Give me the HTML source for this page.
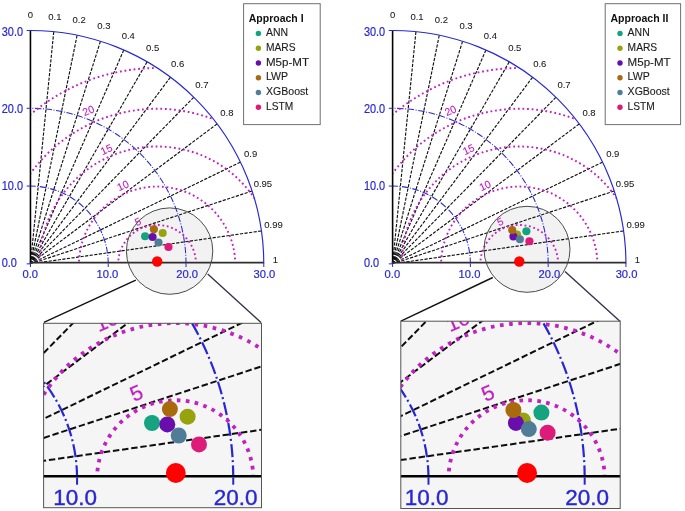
<!DOCTYPE html>
<html><head><meta charset="utf-8"><title>Taylor diagrams</title>
<style>html,body{margin:0;padding:0;background:#fff}svg{display:block;font-family:"Liberation Sans",sans-serif}</style></head><body>
<svg width="685" height="511" viewBox="0 0 685 511">
<defs>
<filter id="bl" x="-5%" y="-5%" width="110%" height="110%"><feGaussianBlur stdDeviation="0.4"/></filter>
<g id="coreL"><clipPath id="qL"><path d="M30.45 263.00 L30.45 30.51 A233.34 233.34 0 0 1 263.79 263.00 Z"/></clipPath>
<clipPath id="bL"><rect x="29.45" y="0" width="236.34" height="263.20"/></clipPath>
<g clip-path="url(#bL)">
<line x1="30.45" y1="263.85" x2="53.78" y2="31.68" stroke="#111" style="stroke-width:var(--dw)" stroke-dasharray="3.2 1.4"/>
<line x1="30.45" y1="263.85" x2="77.12" y2="35.22" stroke="#111" style="stroke-width:var(--dw)" stroke-dasharray="3.2 1.4"/>
<line x1="30.45" y1="263.85" x2="100.45" y2="41.26" stroke="#111" style="stroke-width:var(--dw)" stroke-dasharray="3.2 1.4"/>
<line x1="30.45" y1="263.85" x2="123.79" y2="49.99" stroke="#111" style="stroke-width:var(--dw)" stroke-dasharray="3.2 1.4"/>
<line x1="30.45" y1="263.85" x2="147.12" y2="61.77" stroke="#111" style="stroke-width:var(--dw)" stroke-dasharray="3.2 1.4"/>
<line x1="30.45" y1="263.85" x2="170.45" y2="77.18" stroke="#111" style="stroke-width:var(--dw)" stroke-dasharray="3.2 1.4"/>
<line x1="30.45" y1="263.85" x2="193.79" y2="97.21" stroke="#111" style="stroke-width:var(--dw)" stroke-dasharray="3.2 1.4"/>
<line x1="30.45" y1="263.85" x2="217.12" y2="123.85" stroke="#111" style="stroke-width:var(--dw)" stroke-dasharray="3.2 1.4"/>
<line x1="30.45" y1="263.85" x2="240.46" y2="162.14" stroke="#111" style="stroke-width:var(--dw)" stroke-dasharray="3.2 1.4"/>
<line x1="30.45" y1="263.85" x2="252.12" y2="190.99" stroke="#111" style="stroke-width:var(--dw)" stroke-dasharray="3.2 1.4"/>
<line x1="30.45" y1="263.85" x2="261.46" y2="230.93" stroke="#111" style="stroke-width:var(--dw)" stroke-dasharray="3.2 1.4"/>
<path d="M108.23 263.85 A77.78 77.78 0 0 0 30.45 186.07" fill="none" stroke="#2828d2" style="stroke-width:var(--bw)" stroke-dasharray="6.5 1.6 1 1.5"/>
<path d="M186.01 263.85 A155.56 155.56 0 0 0 30.45 108.29" fill="none" stroke="#2828d2" style="stroke-width:var(--bw)" stroke-dasharray="6.5 1.6 1 1.5"/>
</g>
<g clip-path="url(#qL)">
<path d="M196.00 263.85 A38.89 38.89 0 0 0 118.22 263.85" fill="none" stroke="#c020c0" style="stroke-width:var(--mw)" stroke-dasharray="1.8 2.687"/>
<path d="M235.28 263.85 A78.17 78.17 0 0 0 78.95 263.85" fill="none" stroke="#c020c0" style="stroke-width:var(--mw)" stroke-dasharray="1.8 2.8"/>
<path d="M274.48 263.85 A117.37 117.37 0 0 0 39.74 263.85" fill="none" stroke="#c020c0" style="stroke-width:var(--mw)" stroke-dasharray="1.8 2.8"/>
<path d="M313.45 263.85 A156.34 156.34 0 0 0 0.78 263.85" fill="none" stroke="#c020c0" style="stroke-width:var(--mw)" stroke-dasharray="1.8 2.8"/>
<path d="M153.70 68.07 A195.81 195.81 0 0 0 -38.70 263.85" fill="none" stroke="#c020c0" style="stroke-width:var(--mw)" stroke-dasharray="1.8 2.8"/>
</g>
<text x="137.80" y="221.30" transform="rotate(-24 137.80 221.30)" font-size="10.5" fill="#c020c0" stroke="#c020c0" stroke-width="0.12" text-anchor="middle" dominant-baseline="central">5</text>
<text x="122.80" y="185.30" transform="rotate(-24 122.80 185.30)" font-size="10.5" fill="#c020c0" stroke="#c020c0" stroke-width="0.12" text-anchor="middle" dominant-baseline="central">10</text>
<text x="106.30" y="149.20" transform="rotate(-24 106.30 149.20)" font-size="10.5" fill="#c020c0" stroke="#c020c0" stroke-width="0.12" text-anchor="middle" dominant-baseline="central">15</text>
<text x="88.30" y="110.30" transform="rotate(-24 88.30 110.30)" font-size="10.5" fill="#c020c0" stroke="#c020c0" stroke-width="0.12" text-anchor="middle" dominant-baseline="central">20</text>
<path d="M263.79 263.85 A233.34 233.34 0 0 0 30.45 30.51" fill="none" stroke="#2828d2" stroke-width="1.15"/>
<line x1="30.45" y1="263.55" x2="30.45" y2="30.51" stroke="#000" stroke-width="1.6"/>
<line x1="29.65" y1="262.70" x2="263.79" y2="262.70" style="stroke:var(--axc);stroke-width:var(--axw);transform:translate(0px,var(--by))"/>
<line x1="30.45" y1="263.35" x2="30.45" y2="267.05" stroke="#2828d2" stroke-width="1"/>
<text x="30.20" y="277.95" font-size="11.2" fill="#2828d2" stroke="#2828d2" stroke-width="0.2" text-anchor="middle" style="transform:translate(0px,var(--ly))">0.0</text>
<line x1="26.65" y1="263.85" x2="30.45" y2="263.85" stroke="#2828d2" stroke-width="1"/>
<text x="1.75" y="267.27" font-size="12.2" fill="#2828d2" stroke="#2828d2" stroke-width="0.2" text-anchor="start" textLength="15.2" lengthAdjust="spacingAndGlyphs">0.0</text>
<line x1="108.23" y1="263.35" x2="108.23" y2="267.05" stroke="#2828d2" stroke-width="1"/>
<text x="107.33" y="277.95" font-size="11.2" fill="#2828d2" stroke="#2828d2" stroke-width="0.2" text-anchor="middle" style="transform:translate(0px,var(--ly))">10.0</text>
<line x1="26.65" y1="186.07" x2="30.45" y2="186.07" stroke="#2828d2" stroke-width="1"/>
<text x="1.75" y="189.97" font-size="12.2" fill="#2828d2" stroke="#2828d2" stroke-width="0.2" text-anchor="start" textLength="21.3" lengthAdjust="spacingAndGlyphs">10.0</text>
<line x1="186.01" y1="263.35" x2="186.01" y2="267.05" stroke="#2828d2" stroke-width="1"/>
<text x="187.21" y="277.95" font-size="11.2" fill="#2828d2" stroke="#2828d2" stroke-width="0.2" text-anchor="middle" style="transform:translate(0px,var(--ly))">20.0</text>
<line x1="26.65" y1="108.29" x2="30.45" y2="108.29" stroke="#2828d2" stroke-width="1"/>
<text x="1.75" y="112.77" font-size="12.2" fill="#2828d2" stroke="#2828d2" stroke-width="0.2" text-anchor="start" textLength="21.3" lengthAdjust="spacingAndGlyphs">20.0</text>
<line x1="263.79" y1="263.35" x2="263.79" y2="267.05" stroke="#2828d2" stroke-width="1"/>
<text x="264.39" y="277.95" font-size="11.2" fill="#2828d2" stroke="#2828d2" stroke-width="0.2" text-anchor="middle" style="transform:translate(0px,var(--ly))">30.0</text>
<line x1="26.65" y1="30.51" x2="30.45" y2="30.51" stroke="#2828d2" stroke-width="1"/>
<text x="1.75" y="35.77" font-size="12.2" fill="#2828d2" stroke="#2828d2" stroke-width="0.2" text-anchor="start" textLength="21.3" lengthAdjust="spacingAndGlyphs">30.0</text></g>
<g id="coreR"><clipPath id="qR"><path d="M392.60 263.00 L392.60 30.51 A233.34 233.34 0 0 1 625.94 263.00 Z"/></clipPath>
<clipPath id="bR"><rect x="391.60" y="0" width="236.34" height="263.20"/></clipPath>
<g clip-path="url(#bR)">
<line x1="392.60" y1="263.85" x2="415.93" y2="31.68" stroke="#111" style="stroke-width:var(--dw)" stroke-dasharray="3.2 1.4"/>
<line x1="392.60" y1="263.85" x2="439.27" y2="35.22" stroke="#111" style="stroke-width:var(--dw)" stroke-dasharray="3.2 1.4"/>
<line x1="392.60" y1="263.85" x2="462.60" y2="41.26" stroke="#111" style="stroke-width:var(--dw)" stroke-dasharray="3.2 1.4"/>
<line x1="392.60" y1="263.85" x2="485.94" y2="49.99" stroke="#111" style="stroke-width:var(--dw)" stroke-dasharray="3.2 1.4"/>
<line x1="392.60" y1="263.85" x2="509.27" y2="61.77" stroke="#111" style="stroke-width:var(--dw)" stroke-dasharray="3.2 1.4"/>
<line x1="392.60" y1="263.85" x2="532.60" y2="77.18" stroke="#111" style="stroke-width:var(--dw)" stroke-dasharray="3.2 1.4"/>
<line x1="392.60" y1="263.85" x2="555.94" y2="97.21" stroke="#111" style="stroke-width:var(--dw)" stroke-dasharray="3.2 1.4"/>
<line x1="392.60" y1="263.85" x2="579.27" y2="123.85" stroke="#111" style="stroke-width:var(--dw)" stroke-dasharray="3.2 1.4"/>
<line x1="392.60" y1="263.85" x2="602.61" y2="162.14" stroke="#111" style="stroke-width:var(--dw)" stroke-dasharray="3.2 1.4"/>
<line x1="392.60" y1="263.85" x2="614.27" y2="190.99" stroke="#111" style="stroke-width:var(--dw)" stroke-dasharray="3.2 1.4"/>
<line x1="392.60" y1="263.85" x2="623.61" y2="230.93" stroke="#111" style="stroke-width:var(--dw)" stroke-dasharray="3.2 1.4"/>
<path d="M470.38 263.85 A77.78 77.78 0 0 0 392.60 186.07" fill="none" stroke="#2828d2" style="stroke-width:var(--bw)" stroke-dasharray="6.5 1.6 1 1.5"/>
<path d="M548.16 263.85 A155.56 155.56 0 0 0 392.60 108.29" fill="none" stroke="#2828d2" style="stroke-width:var(--bw)" stroke-dasharray="6.5 1.6 1 1.5"/>
</g>
<g clip-path="url(#qR)">
<path d="M558.15 263.85 A38.89 38.89 0 0 0 480.37 263.85" fill="none" stroke="#c020c0" style="stroke-width:var(--mw)" stroke-dasharray="1.8 2.687"/>
<path d="M597.43 263.85 A78.17 78.17 0 0 0 441.10 263.85" fill="none" stroke="#c020c0" style="stroke-width:var(--mw)" stroke-dasharray="1.8 2.8"/>
<path d="M636.63 263.85 A117.37 117.37 0 0 0 401.89 263.85" fill="none" stroke="#c020c0" style="stroke-width:var(--mw)" stroke-dasharray="1.8 2.8"/>
<path d="M675.60 263.85 A156.34 156.34 0 0 0 362.93 263.85" fill="none" stroke="#c020c0" style="stroke-width:var(--mw)" stroke-dasharray="1.8 2.8"/>
<path d="M515.85 68.07 A195.81 195.81 0 0 0 323.45 263.85" fill="none" stroke="#c020c0" style="stroke-width:var(--mw)" stroke-dasharray="1.8 2.8"/>
</g>
<text x="499.95" y="221.30" transform="rotate(-24 499.95 221.30)" font-size="10.5" fill="#c020c0" stroke="#c020c0" stroke-width="0.12" text-anchor="middle" dominant-baseline="central">5</text>
<text x="484.95" y="185.30" transform="rotate(-24 484.95 185.30)" font-size="10.5" fill="#c020c0" stroke="#c020c0" stroke-width="0.12" text-anchor="middle" dominant-baseline="central">10</text>
<text x="468.45" y="149.20" transform="rotate(-24 468.45 149.20)" font-size="10.5" fill="#c020c0" stroke="#c020c0" stroke-width="0.12" text-anchor="middle" dominant-baseline="central">15</text>
<text x="450.45" y="110.30" transform="rotate(-24 450.45 110.30)" font-size="10.5" fill="#c020c0" stroke="#c020c0" stroke-width="0.12" text-anchor="middle" dominant-baseline="central">20</text>
<path d="M625.94 263.85 A233.34 233.34 0 0 0 392.60 30.51" fill="none" stroke="#2828d2" stroke-width="1.15"/>
<line x1="392.60" y1="263.55" x2="392.60" y2="30.51" stroke="#000" stroke-width="1.6"/>
<line x1="391.80" y1="262.70" x2="625.94" y2="262.70" style="stroke:var(--axc);stroke-width:var(--axw);transform:translate(0px,var(--by))"/>
<line x1="392.60" y1="263.35" x2="392.60" y2="267.05" stroke="#2828d2" stroke-width="1"/>
<text x="392.35" y="277.95" font-size="11.2" fill="#2828d2" stroke="#2828d2" stroke-width="0.2" text-anchor="middle" style="transform:translate(0px,var(--ly))">0.0</text>
<line x1="388.80" y1="263.85" x2="392.60" y2="263.85" stroke="#2828d2" stroke-width="1"/>
<text x="363.90" y="267.27" font-size="12.2" fill="#2828d2" stroke="#2828d2" stroke-width="0.2" text-anchor="start" textLength="15.2" lengthAdjust="spacingAndGlyphs">0.0</text>
<line x1="470.38" y1="263.35" x2="470.38" y2="267.05" stroke="#2828d2" stroke-width="1"/>
<text x="469.48" y="277.95" font-size="11.2" fill="#2828d2" stroke="#2828d2" stroke-width="0.2" text-anchor="middle" style="transform:translate(0px,var(--ly))">10.0</text>
<line x1="388.80" y1="186.07" x2="392.60" y2="186.07" stroke="#2828d2" stroke-width="1"/>
<text x="363.90" y="189.97" font-size="12.2" fill="#2828d2" stroke="#2828d2" stroke-width="0.2" text-anchor="start" textLength="21.3" lengthAdjust="spacingAndGlyphs">10.0</text>
<line x1="548.16" y1="263.35" x2="548.16" y2="267.05" stroke="#2828d2" stroke-width="1"/>
<text x="549.36" y="277.95" font-size="11.2" fill="#2828d2" stroke="#2828d2" stroke-width="0.2" text-anchor="middle" style="transform:translate(0px,var(--ly))">20.0</text>
<line x1="388.80" y1="108.29" x2="392.60" y2="108.29" stroke="#2828d2" stroke-width="1"/>
<text x="363.90" y="112.77" font-size="12.2" fill="#2828d2" stroke="#2828d2" stroke-width="0.2" text-anchor="start" textLength="21.3" lengthAdjust="spacingAndGlyphs">20.0</text>
<line x1="625.94" y1="263.35" x2="625.94" y2="267.05" stroke="#2828d2" stroke-width="1"/>
<text x="626.54" y="277.95" font-size="11.2" fill="#2828d2" stroke="#2828d2" stroke-width="0.2" text-anchor="middle" style="transform:translate(0px,var(--ly))">30.0</text>
<line x1="388.80" y1="30.51" x2="392.60" y2="30.51" stroke="#2828d2" stroke-width="1"/>
<text x="363.90" y="35.77" font-size="12.2" fill="#2828d2" stroke="#2828d2" stroke-width="0.2" text-anchor="start" textLength="21.3" lengthAdjust="spacingAndGlyphs">30.0</text></g>
<clipPath id="insL"><rect x="43.6" y="323.3" width="217.9" height="184.4" /></clipPath>
<clipPath id="insR"><rect x="400.8" y="321.2" width="219.4" height="187.3" /></clipPath>
</defs>
<rect width="685" height="511" fill="#fff"/>
<g opacity="0.999">
<circle cx="169.6" cy="251.1" r="43.2" fill="#f2f2f2"/>
<circle cx="527.0" cy="249.3" r="43.0" fill="#f2f2f2"/>
<use href="#coreL" style="--dw:1.15;--bw:1.05;--mw:1.9;--axw:1.7;--axc:#2e2e2e;--by:0px;--ly:0px"/>
<use href="#coreR" style="--dw:1.15;--bw:1.05;--mw:1.9;--axw:1.7;--axc:#2e2e2e;--by:0px;--ly:0px"/>
<circle cx="145.10" cy="236.30" r="4.05" fill="#12a37f"/>
<circle cx="162.70" cy="233.00" r="4.05" fill="#96a30f"/>
<circle cx="152.60" cy="237.00" r="4.05" fill="#6a0dad"/>
<circle cx="153.90" cy="229.30" r="4.05" fill="#a86a0e"/>
<circle cx="158.50" cy="242.50" r="4.05" fill="#4f7d98"/>
<circle cx="168.50" cy="247.00" r="4.05" fill="#dd1a7a"/>
<circle cx="157.2" cy="261.45" r="5.2" fill="#ff0000"/>
<circle cx="526.40" cy="231.20" r="4.05" fill="#12a37f"/>
<circle cx="517.00" cy="234.60" r="4.05" fill="#96a30f"/>
<circle cx="513.40" cy="236.50" r="4.05" fill="#6a0dad"/>
<circle cx="512.20" cy="230.00" r="4.05" fill="#a86a0e"/>
<circle cx="519.90" cy="239.30" r="4.05" fill="#4f7d98"/>
<circle cx="529.40" cy="241.20" r="4.05" fill="#dd1a7a"/>
<circle cx="519.3" cy="261.45" r="5.2" fill="#ff0000"/>
<circle cx="169.6" cy="251.1" r="43.2" fill="none" stroke="#4a4a4a" stroke-width="1"/>
<circle cx="527.0" cy="249.3" r="43.0" fill="none" stroke="#4a4a4a" stroke-width="1"/>
<text x="30.50" y="18.00" font-size="9.5" fill="#1a1a1a" stroke="#1a1a1a" stroke-width="0.08" text-anchor="middle">0</text>
<text x="54.90" y="19.70" font-size="9.5" fill="#1a1a1a" stroke="#1a1a1a" stroke-width="0.08" text-anchor="middle">0.1</text>
<text x="79.20" y="23.20" font-size="9.5" fill="#1a1a1a" stroke="#1a1a1a" stroke-width="0.08" text-anchor="middle">0.2</text>
<text x="103.90" y="29.40" font-size="9.5" fill="#1a1a1a" stroke="#1a1a1a" stroke-width="0.08" text-anchor="middle">0.3</text>
<text x="128.30" y="38.80" font-size="9.5" fill="#1a1a1a" stroke="#1a1a1a" stroke-width="0.08" text-anchor="middle">0.4</text>
<text x="152.60" y="50.50" font-size="9.5" fill="#1a1a1a" stroke="#1a1a1a" stroke-width="0.08" text-anchor="middle">0.5</text>
<text x="177.60" y="67.20" font-size="9.5" fill="#1a1a1a" stroke="#1a1a1a" stroke-width="0.08" text-anchor="middle">0.6</text>
<text x="201.90" y="88.10" font-size="9.5" fill="#1a1a1a" stroke="#1a1a1a" stroke-width="0.08" text-anchor="middle">0.7</text>
<text x="226.90" y="115.60" font-size="9.5" fill="#1a1a1a" stroke="#1a1a1a" stroke-width="0.08" text-anchor="middle">0.8</text>
<text x="250.60" y="156.50" font-size="9.5" fill="#1a1a1a" stroke="#1a1a1a" stroke-width="0.08" text-anchor="middle">0.9</text>
<text x="262.90" y="186.70" font-size="9.5" fill="#1a1a1a" stroke="#1a1a1a" stroke-width="0.08" text-anchor="middle">0.95</text>
<text x="273.50" y="228.40" font-size="9.5" fill="#1a1a1a" stroke="#1a1a1a" stroke-width="0.08" text-anchor="middle">0.99</text>
<text x="275.30" y="263.00" font-size="9.5" fill="#1a1a1a" stroke="#1a1a1a" stroke-width="0.08" text-anchor="middle">1</text>
<text x="392.65" y="18.00" font-size="9.5" fill="#1a1a1a" stroke="#1a1a1a" stroke-width="0.08" text-anchor="middle">0</text>
<text x="417.05" y="19.70" font-size="9.5" fill="#1a1a1a" stroke="#1a1a1a" stroke-width="0.08" text-anchor="middle">0.1</text>
<text x="441.35" y="23.20" font-size="9.5" fill="#1a1a1a" stroke="#1a1a1a" stroke-width="0.08" text-anchor="middle">0.2</text>
<text x="466.05" y="29.40" font-size="9.5" fill="#1a1a1a" stroke="#1a1a1a" stroke-width="0.08" text-anchor="middle">0.3</text>
<text x="490.45" y="38.80" font-size="9.5" fill="#1a1a1a" stroke="#1a1a1a" stroke-width="0.08" text-anchor="middle">0.4</text>
<text x="514.75" y="50.50" font-size="9.5" fill="#1a1a1a" stroke="#1a1a1a" stroke-width="0.08" text-anchor="middle">0.5</text>
<text x="539.75" y="67.20" font-size="9.5" fill="#1a1a1a" stroke="#1a1a1a" stroke-width="0.08" text-anchor="middle">0.6</text>
<text x="564.05" y="88.10" font-size="9.5" fill="#1a1a1a" stroke="#1a1a1a" stroke-width="0.08" text-anchor="middle">0.7</text>
<text x="589.05" y="115.60" font-size="9.5" fill="#1a1a1a" stroke="#1a1a1a" stroke-width="0.08" text-anchor="middle">0.8</text>
<text x="612.75" y="156.50" font-size="9.5" fill="#1a1a1a" stroke="#1a1a1a" stroke-width="0.08" text-anchor="middle">0.9</text>
<text x="625.05" y="186.70" font-size="9.5" fill="#1a1a1a" stroke="#1a1a1a" stroke-width="0.08" text-anchor="middle">0.95</text>
<text x="635.65" y="228.40" font-size="9.5" fill="#1a1a1a" stroke="#1a1a1a" stroke-width="0.08" text-anchor="middle">0.99</text>
<text x="637.45" y="263.00" font-size="9.5" fill="#1a1a1a" stroke="#1a1a1a" stroke-width="0.08" text-anchor="middle">1</text>
<rect x="243.60" y="3.7" width="76.6" height="120.9" fill="#fff" stroke="#707070" stroke-width="1"/>
<text x="248.80" y="22" font-size="10.8" font-weight="bold" fill="#111" textLength="54.8" lengthAdjust="spacingAndGlyphs">Approach I</text>
<circle cx="258.40" cy="33.40" r="2.7" fill="#12a37f"/>
<text x="266.00" y="36.00" font-size="10.6" fill="#1c1c1c" stroke="#1c1c1c" stroke-width="0.12" textLength="22.1" lengthAdjust="spacingAndGlyphs">ANN</text>
<circle cx="258.40" cy="48.18" r="2.7" fill="#96a30f"/>
<text x="266.00" y="50.78" font-size="10.6" fill="#1c1c1c" stroke="#1c1c1c" stroke-width="0.12" textLength="29.6" lengthAdjust="spacingAndGlyphs">MARS</text>
<circle cx="258.40" cy="62.96" r="2.7" fill="#6a0dad"/>
<text x="266.00" y="65.56" font-size="10.6" fill="#1c1c1c" stroke="#1c1c1c" stroke-width="0.12" textLength="43" lengthAdjust="spacingAndGlyphs">M5p-MT</text>
<circle cx="258.40" cy="77.74" r="2.7" fill="#a86a0e"/>
<text x="266.00" y="80.34" font-size="10.6" fill="#1c1c1c" stroke="#1c1c1c" stroke-width="0.12" textLength="22.1" lengthAdjust="spacingAndGlyphs">LWP</text>
<circle cx="258.40" cy="92.52" r="2.7" fill="#4f7d98"/>
<text x="266.00" y="95.12" font-size="10.6" fill="#1c1c1c" stroke="#1c1c1c" stroke-width="0.12" textLength="42.2" lengthAdjust="spacingAndGlyphs">XGBoost</text>
<circle cx="258.40" cy="107.30" r="2.7" fill="#dd1a7a"/>
<text x="266.00" y="109.90" font-size="10.6" fill="#1c1c1c" stroke="#1c1c1c" stroke-width="0.12" textLength="27.2" lengthAdjust="spacingAndGlyphs">LSTM</text>
<rect x="605.20" y="3.7" width="75.4" height="120.9" fill="#fff" stroke="#707070" stroke-width="1"/>
<text x="610.40" y="22" font-size="10.8" font-weight="bold" fill="#111" textLength="58" lengthAdjust="spacingAndGlyphs">Approach II</text>
<circle cx="620.00" cy="33.40" r="2.7" fill="#12a37f"/>
<text x="627.60" y="36.00" font-size="10.6" fill="#1c1c1c" stroke="#1c1c1c" stroke-width="0.12" textLength="22.1" lengthAdjust="spacingAndGlyphs">ANN</text>
<circle cx="620.00" cy="48.18" r="2.7" fill="#96a30f"/>
<text x="627.60" y="50.78" font-size="10.6" fill="#1c1c1c" stroke="#1c1c1c" stroke-width="0.12" textLength="29.6" lengthAdjust="spacingAndGlyphs">MARS</text>
<circle cx="620.00" cy="62.96" r="2.7" fill="#6a0dad"/>
<text x="627.60" y="65.56" font-size="10.6" fill="#1c1c1c" stroke="#1c1c1c" stroke-width="0.12" textLength="43" lengthAdjust="spacingAndGlyphs">M5p-MT</text>
<circle cx="620.00" cy="77.74" r="2.7" fill="#a86a0e"/>
<text x="627.60" y="80.34" font-size="10.6" fill="#1c1c1c" stroke="#1c1c1c" stroke-width="0.12" textLength="22.1" lengthAdjust="spacingAndGlyphs">LWP</text>
<circle cx="620.00" cy="92.52" r="2.7" fill="#4f7d98"/>
<text x="627.60" y="95.12" font-size="10.6" fill="#1c1c1c" stroke="#1c1c1c" stroke-width="0.12" textLength="42.2" lengthAdjust="spacingAndGlyphs">XGBoost</text>
<circle cx="620.00" cy="107.30" r="2.7" fill="#dd1a7a"/>
<text x="627.60" y="109.90" font-size="10.6" fill="#1c1c1c" stroke="#1c1c1c" stroke-width="0.12" textLength="27.2" lengthAdjust="spacingAndGlyphs">LSTM</text>
<line x1="135.8" y1="280.1" x2="43.9" y2="322.3" stroke="#111" stroke-width="1.4"/>
<line x1="207.7" y1="273.9" x2="261" y2="322.5" stroke="#33334d" stroke-width="1.4"/>
<line x1="492.8" y1="277.5" x2="400.9" y2="321.2" stroke="#111" stroke-width="1.4"/>
<line x1="565" y1="271.4" x2="620.2" y2="321.4" stroke="#33334d" stroke-width="1.4"/>
<rect x="43.6" y="323.3" width="217.9" height="184.4" fill="#f5f5f5"/>
<g clip-path="url(#insL)"><g filter="url(#bl)"><use href="#coreL" transform="translate(-140.27 -51.51) scale(2.008)" style="--dw:1.0;--bw:1.1;--mw:1.9;--axw:1.3;--axc:#000;--by:0.15px;--ly:-0.85px"/><circle cx="152.00" cy="423.00" r="8.0" fill="#12a37f"/>
<circle cx="187.60" cy="416.70" r="8.0" fill="#96a30f"/>
<circle cx="167.30" cy="424.40" r="8.0" fill="#6a0dad"/>
<circle cx="169.90" cy="409.10" r="8.0" fill="#a86a0e"/>
<circle cx="178.70" cy="435.50" r="8.0" fill="#4f7d98"/>
<circle cx="199.00" cy="444.40" r="8.0" fill="#dd1a7a"/>
<circle cx="175.8" cy="473.0" r="9.9" fill="#ff0000"/></g></g>
<rect x="43.6" y="323.3" width="217.9" height="184.4" fill="none" stroke="#555" stroke-width="1"/>
<rect x="400.8" y="321.2" width="219.4" height="187.3" fill="#f5f5f5"/>
<g clip-path="url(#insR)"><g filter="url(#bl)"><use href="#coreR" transform="translate(-516.04 -51.51) scale(2.008)" style="--dw:1.0;--bw:1.1;--mw:1.9;--axw:1.3;--axc:#000;--by:0.15px;--ly:-0.85px"/><circle cx="541.40" cy="412.60" r="8.0" fill="#12a37f"/>
<circle cx="523.00" cy="420.40" r="8.0" fill="#96a30f"/>
<circle cx="515.90" cy="422.90" r="8.0" fill="#6a0dad"/>
<circle cx="513.40" cy="410.00" r="8.0" fill="#a86a0e"/>
<circle cx="528.80" cy="429.10" r="8.0" fill="#4f7d98"/>
<circle cx="547.60" cy="432.70" r="8.0" fill="#dd1a7a"/>
<circle cx="527.1" cy="473.0" r="9.9" fill="#ff0000"/></g></g>
<rect x="400.8" y="321.2" width="219.4" height="187.3" fill="none" stroke="#555" stroke-width="1"/>
</g>
</svg></body></html>
